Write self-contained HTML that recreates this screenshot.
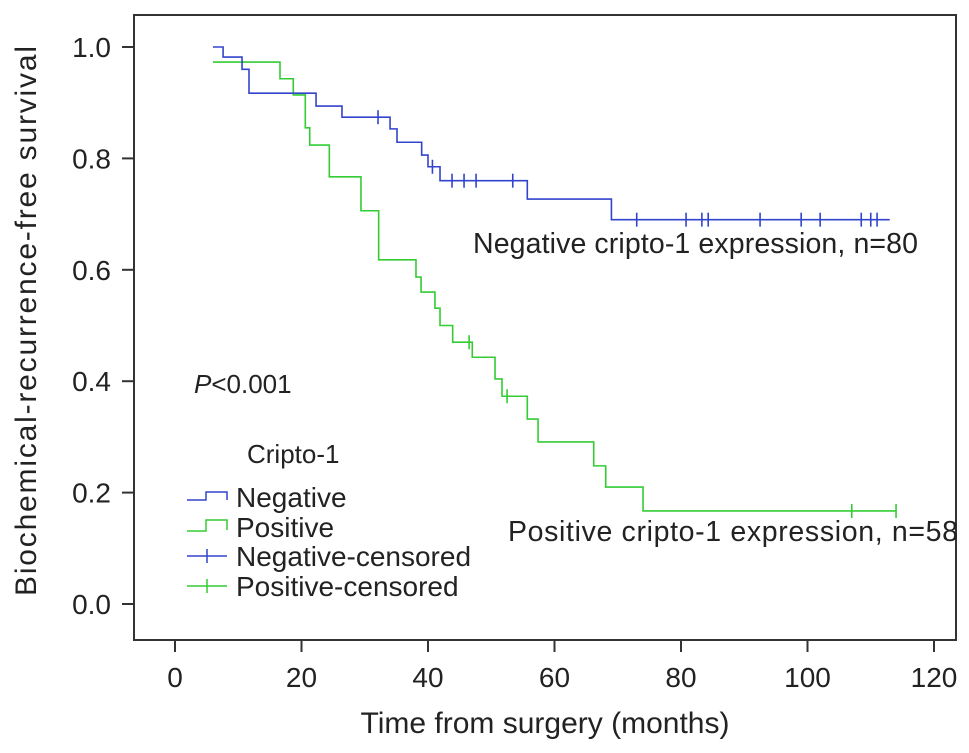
<!DOCTYPE html>
<html><head><meta charset="utf-8"><style>
html,body{margin:0;padding:0;background:#fff;}
svg{display:block;font-family:"Liberation Sans",Arial,sans-serif;}
</style></head><body>
<svg id="chart" width="969" height="753">
<rect x="0" y="0" width="969" height="753" fill="#fff"/>
<rect x="134" y="15" width="822" height="625" fill="none" stroke="#333" stroke-width="2"/>
<g id="axes"></g>
<g id="series"></g>
<text x="473" y="253" font-size="28.5" fill="#222" textLength="445">Negative cripto-1 expression, n=80</text>
<text x="508" y="541" font-size="28.5" fill="#222" textLength="450">Positive cripto-1 expression, n=58</text>
<text x="194" y="393" font-size="26" fill="#222"><tspan font-style="italic">P</tspan>&lt;0.001</text>
<text x="247" y="463" font-size="26" fill="#222">Cripto-1</text>
<g>
<path d="M187 500 H206 V492 H227 V500" fill="none" stroke="#3344cc" stroke-width="1.5"/>
<text x="236" y="507" font-size="28" fill="#222">Negative</text>
<path d="M187 531 H206 V520 H227 V530" fill="none" stroke="#33cc33" stroke-width="1.5"/>
<text x="236" y="537" font-size="28" fill="#222">Positive</text>
<path d="M187 556 H227 M207 549 V563" fill="none" stroke="#3344cc" stroke-width="1.5"/>
<text x="236" y="566" font-size="28" fill="#222">Negative-censored</text>
<path d="M187 586 H227 M207 579 V593" fill="none" stroke="#33cc33" stroke-width="1.5"/>
<text x="236" y="596" font-size="28" fill="#222">Positive-censored</text>
</g>
<text x="545" y="733" font-size="30" fill="#222" text-anchor="middle">Time from surgery (months)</text>
<text transform="translate(36,321) rotate(-90)" font-size="30" fill="#222" text-anchor="middle" textLength="550">Biochemical-recurrence-free survival</text>
</svg>
<script>
const xTicks = [0, 20, 40, 60, 80, 100, 120];
const yTicks = [0.0, 0.2, 0.4, 0.6, 0.8, 1.0];
const negTimes = [6, 7.6, 10.6, 11.7, 22.3, 26.4, 34, 35.1, 39, 40, 41.9, 55.7, 69, 113];
const negSurv = [1.0, 0.982, 0.96, 0.917, 0.894, 0.874, 0.853, 0.829, 0.806, 0.785, 0.76, 0.727, 0.69, 0.69];
const negCensor = [32.1, 40.7, 43.8, 45.7, 47.6, 53.4, 73, 80.8, 83.3, 84.3, 92.5, 99, 102, 108.5, 110, 111];
const posTimes = [6, 16.6, 18.7, 20.6, 21.3, 24.4, 29.4, 32.2, 38.1, 38.9, 41.1, 41.9, 43.9, 47, 50.6, 51.7, 55.7, 57.4, 66.2, 68.1, 74, 114];
const posSurv = [0.973, 0.943, 0.914, 0.855, 0.824, 0.767, 0.706, 0.618, 0.587, 0.56, 0.531, 0.5, 0.47, 0.443, 0.404, 0.373, 0.332, 0.291, 0.248, 0.21, 0.167, 0.167];
const posCensor = [46.5, 52.5, 107, 114];

const X = t => 175 + t * (934 - 175) / 120;
const Y = s => 604 - s * 557;
const NS = "http://www.w3.org/2000/svg";
const axes = document.getElementById('axes');
const series = document.getElementById('series');
function mk(tag, attrs, parent) {
  const e = document.createElementNS(NS, tag);
  for (const k in attrs) e.setAttribute(k, attrs[k]);
  parent.appendChild(e);
  return e;
}
xTicks.forEach(v => {
  const l = mk('line', {x1: X(v), x2: X(v), y1: 640, y2: 652, stroke: '#333', 'stroke-width': 2}, axes);
  
  
  const t = mk('text', {x: X(v), y: 687, 'font-size': 28, 'text-anchor': 'middle', fill: '#222'}, axes);
  t.textContent = v;
  
  
});
yTicks.forEach(v => {
  const l = mk('line', {x1: 122, x2: 134, y1: Y(v), y2: Y(v), stroke: '#333', 'stroke-width': 2}, axes);
  
  
  const t = mk('text', {x: 111, y: Y(v) + 10, 'font-size': 28, 'text-anchor': 'end', fill: '#222'}, axes);
  t.textContent = v.toFixed(1);
  
  
});
function stepPath(ts, ss) {
  let d = 'M' + X(ts[0]) + ' ' + Y(ss[0]);
  for (let i = 1; i < ts.length; i++) d += ' H' + X(ts[i]) + ' V' + Y(ss[i]);
  return d;
}
function survAt(ts, ss, t) {
  let s = ss[0];
  for (let i = 0; i < ts.length; i++) if (ts[i] <= t) s = ss[i];
  return s;
}
function drawSeries(ts, ss, cs, color, name) {
  const p = mk('path', {d: stepPath(ts, ss), fill: 'none', stroke: color, 'stroke-width': 1.6}, series);
  
  
  cs.forEach(c => {
    const y = Y(survAt(ts, ss, c));
    const m = mk('path', {d: 'M' + X(c) + ' ' + (y - 7) + ' V' + (y + 7), stroke: color, 'stroke-width': 1.6}, series);
    
    
  });
}
drawSeries(posTimes, posSurv, posCensor, '#33cc33', 'positive');
drawSeries(negTimes, negSurv, negCensor, '#3344cc', 'negative');
</script>
</body></html>
